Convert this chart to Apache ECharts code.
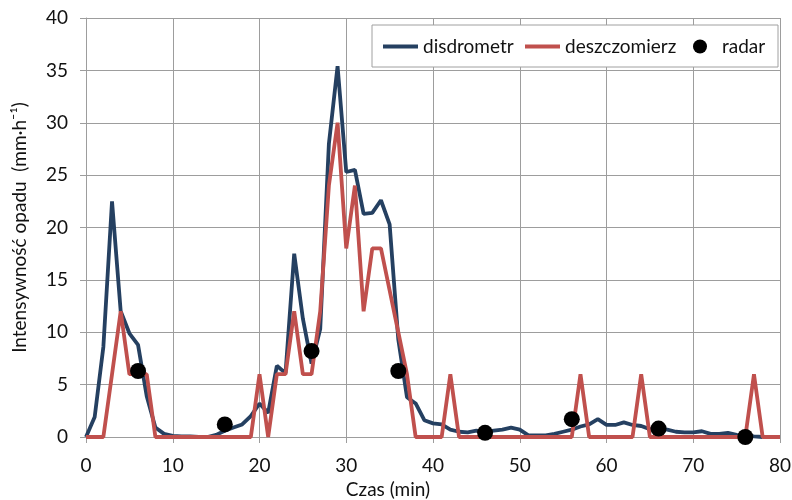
<!DOCTYPE html>
<html>
<head>
<meta charset="utf-8">
<script src="https://cdn.jsdelivr.net/npm/echarts@6/dist/echarts.min.js"></script>
<style>html,body{margin:0;padding:0;background:#fff}#c{width:792px;height:500px}</style>
</head>
<body>
<div id="c"></div>
<script>
// time (min) and values
const disdrometrTime = [0,1,2,3,4,5,6,7,8,9,10,11,12,13,14,15,16,17,18,19,20,21,22,23,24,25,26,27,28,29,30,31,32,33,34,35,36,37,38,39,40,41,42,43,44,45,46,47,48,49,50,51,52,53,54,55,56,57,58,59,60,61,62,63,64,65,66,67,68,69,70,71,72,73,74,75,76,77,78];
const disdrometr = [0,1.9,8.6,22.5,12.0,9.9,8.8,3.9,0.9,0.3,0.1,0.05,0.05,0,0,0.2,0.6,0.9,1.2,2.0,3.2,2.3,6.8,6.1,17.5,11.3,7.0,10.3,28.0,35.4,25.3,25.5,21.3,21.4,22.6,20.3,9.3,3.8,3.2,1.6,1.3,1.2,0.7,0.5,0.45,0.6,0.5,0.6,0.7,0.9,0.7,0.15,0.15,0.15,0.3,0.5,0.7,1.0,1.2,1.7,1.15,1.15,1.4,1.15,1.05,0.75,0.8,0.7,0.5,0.45,0.45,0.55,0.3,0.3,0.4,0.2,0.15,0.05,0];
const deszczomierzTime = [0,1,2,3,4,5,6,7,8,9,10,11,12,13,14,15,16,17,18,19,20,21,22,23,24,25,26,27,28,29,30,31,32,33,34,35,36,37,38,39,40,41,42,43,44,45,46,47,48,49,50,51,52,53,54,55,56,57,58,59,60,61,62,63,64,65,66,67,68,69,70,71,72,73,74,75,76,77,78,79,80];
const deszczomierz = [0,0,0,6,12,6,6,6,0,0,0,0,0,0,0,0,0,0,0,0,6,0,6,6,12,6,6,12,24,30,18,24,12,18,18,14,10,6,0,0,0,0,6,0,0,0,0,0,0,0,0,0,0,0,0,0,0,6,0,0,0,0,0,0,6,0,0,0,0,0,0,0,0,0,0,0,0,6,0,0,0];
const radarTime = [6,16,26,36,46,56,66,76];
const radar = [6.3,1.2,8.2,6.3,0.4,1.7,0.8,0.0];
const xTicks = [0,10,20,30,40,50,60,70,80];
const yTicks = [0,5,10,15,20,25,30,35,40];

const pairs = (xs, ys) => xs.map((x, i) => [x, ys[i]]);
const FONT = 'Lato';
const FS = 19;
const TXT = '#111';
const GRID = '#9d9d9d';
const BLUE = '#254061';
const RED = '#c0504d';

const chart = echarts.init(document.getElementById('c'), null, {renderer: 'canvas'});
const legendBase = {
  top: 37, padding: 0, itemGap: 0,
  textStyle: {fontFamily: FONT, fontSize: FS, color: TXT},
  selectedMode: false
};
chart.setOption({
  animation: false,
  backgroundColor: '#fff',
  grid: {left: 86, right: 12, top: 18, bottom: 63, containLabel: false, outerBoundsMode: 'none'},
  graphic: [{
    type: 'rect', z: 3,
    shape: {x: 372, y: 25, width: 406, height: 42},
    style: {fill: '#fff', stroke: '#a0a0a0', lineWidth: 1}
  }],
  legend: [
    Object.assign({}, legendBase, {left: 383, itemWidth: 35, itemHeight: 4, data: [{name: 'disdrometr', icon: 'rect', itemStyle: {color: BLUE}}]}),
    Object.assign({}, legendBase, {left: 525, itemWidth: 35, itemHeight: 4, data: [{name: 'deszczomierz', icon: 'rect', itemStyle: {color: RED}}]}),
    Object.assign({}, legendBase, {left: 693, itemWidth: 14, itemHeight: 14,
      textStyle: {fontFamily: FONT, fontSize: FS, color: TXT, padding: [0, 0, 0, 10]},
      data: [{name: 'radar', icon: 'circle', itemStyle: {color: '#000', opacity: 1}}]})
  ],
  xAxis: {
    type: 'value', min: xTicks[0], max: xTicks[xTicks.length - 1], interval: 10,
    name: 'Czas (min)', nameLocation: 'middle', nameGap: 42,
    nameTextStyle: {fontFamily: FONT, fontSize: FS, color: TXT, padding: [0, 90, 0, 0]},
    axisLine: {show: true, lineStyle: {color: GRID, width: 1}},
    axisTick: {show: true, inside: false, length: 6, lineStyle: {color: GRID}},
    axisLabel: {fontFamily: FONT, fontSize: FS, color: TXT, margin: 19},
    splitLine: {show: true, lineStyle: {color: GRID, width: 1}}
  },
  yAxis: {
    type: 'value', min: yTicks[0], max: yTicks[yTicks.length - 1], interval: 5,
    name: 'Intensywność opadu  (mm·h⁻¹)', nameLocation: 'middle', nameGap: 57,
    nameTextStyle: {fontFamily: FONT, fontSize: FS, color: TXT},
    axisLine: {show: true, lineStyle: {color: GRID, width: 1}},
    axisTick: {show: true, inside: false, length: 6, lineStyle: {color: GRID}},
    axisLabel: {fontFamily: FONT, fontSize: FS, color: TXT, margin: 18},
    splitLine: {show: true, lineStyle: {color: GRID, width: 1}}
  },
  series: [
    {
      name: 'disdrometr', type: 'line', data: pairs(disdrometrTime, disdrometr),
      symbol: 'none', showSymbol: false, z: 2,
      lineStyle: {color: BLUE, width: 3.8}, itemStyle: {color: BLUE}
    },
    {
      name: 'deszczomierz', type: 'line', data: pairs(deszczomierzTime, deszczomierz),
      symbol: 'none', showSymbol: false, z: 2,
      lineStyle: {color: RED, width: 3.8}, itemStyle: {color: RED}
    },
    {
      name: 'radar', type: 'scatter', data: pairs(radarTime, radar),
      symbol: 'circle', symbolSize: 16, z: 2,
      itemStyle: {color: '#000', opacity: 1}
    }
  ]
});
</script>
</body>
</html>
